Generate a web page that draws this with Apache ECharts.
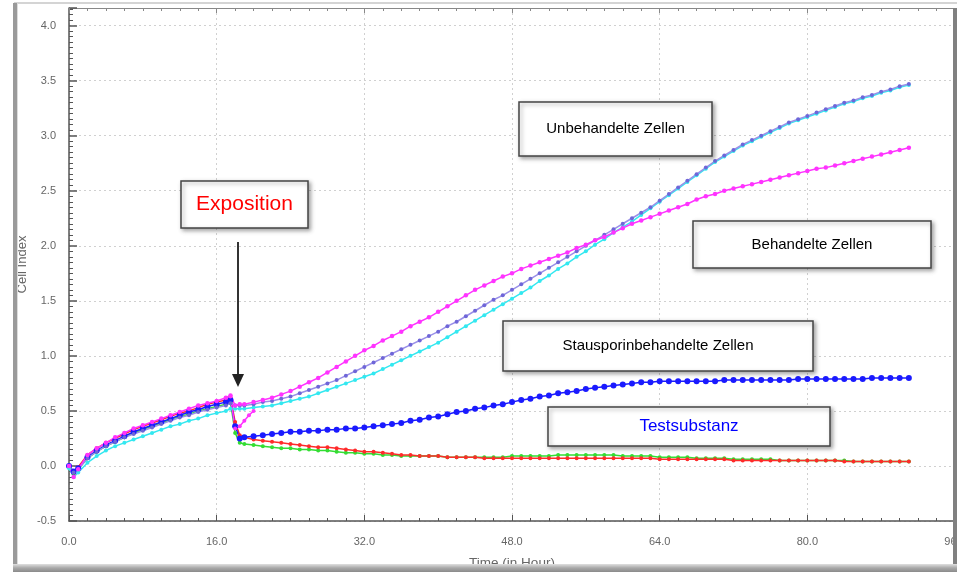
<!DOCTYPE html>
<html lang="de">
<head>
<meta charset="UTF-8">
<title>Cell Index</title>
<script src="https://cdn.jsdelivr.net/npm/echarts@6/dist/echarts.min.js"></script>
<style>
  html, body { margin: 0; padding: 0; background: #fff; }
  #chart { width: 957px; height: 572px; }
</style>
</head>
<body>
<div id="chart"></div>
<script>
// Zeitpunkte (Stunden)
var hours = [0, 0.5, 1, 2, 3, 4, 5, 6, 7, 8, 9, 10, 11, 12, 13, 14, 15, 16, 17, 17.5, 18, 18.5,
  19, 20, 21, 22, 23, 24, 25, 26, 27, 28, 29, 30, 31, 32, 33, 34, 35, 36, 37, 38,
  39, 40, 41, 42, 43, 44, 45, 46, 47, 48, 49, 50, 51, 52, 53, 54, 55, 56, 57, 58,
  59, 60, 61, 62, 63, 64, 65, 66, 67, 68, 69, 70, 71, 72, 73, 74, 75, 76, 77, 78,
  79, 80, 81, 82, 83, 84, 85, 86, 87, 88, 89, 90, 91];

// Behandelte Zellen (magenta)
var behandelt = [0.0, -0.10, -0.03, 0.10, 0.16, 0.21, 0.26, 0.30, 0.34, 0.37, 0.40, 0.43, 0.46, 0.49, 0.52, 0.55, 0.57, 0.59, 0.62, 0.64, 0.55, 0.56,
  0.56, 0.58, 0.60, 0.62, 0.65, 0.68, 0.72, 0.76, 0.80, 0.85, 0.90, 0.95, 1.00, 1.05, 1.09, 1.14, 1.18, 1.22, 1.27, 1.31,
  1.35, 1.40, 1.45, 1.50, 1.55, 1.60, 1.64, 1.68, 1.72, 1.75, 1.79, 1.82, 1.85, 1.88, 1.91, 1.94, 1.98, 2.01, 2.05, 2.08,
  2.12, 2.16, 2.20, 2.23, 2.26, 2.29, 2.32, 2.35, 2.38, 2.42, 2.45, 2.47, 2.50, 2.52, 2.54, 2.56, 2.58, 2.60, 2.62, 2.64,
  2.66, 2.68, 2.70, 2.71, 2.73, 2.75, 2.77, 2.79, 2.81, 2.83, 2.85, 2.87, 2.89];

// Unbehandelte Zellen (violett)
var unbehandelt = [0.0, -0.06, -0.03, 0.07, 0.13, 0.18, 0.22, 0.26, 0.29, 0.32, 0.35, 0.38, 0.41, 0.44, 0.46, 0.49, 0.51, 0.53, 0.55, 0.57, 0.55, 0.55,
  0.55, 0.56, 0.58, 0.59, 0.61, 0.63, 0.66, 0.69, 0.72, 0.75, 0.78, 0.82, 0.86, 0.90, 0.94, 0.98, 1.02, 1.06, 1.10, 1.14,
  1.18, 1.22, 1.27, 1.31, 1.36, 1.41, 1.46, 1.51, 1.55, 1.60, 1.65, 1.70, 1.75, 1.80, 1.85, 1.90, 1.95, 2.00, 2.05, 2.10,
  2.15, 2.20, 2.25, 2.30, 2.35, 2.41, 2.47, 2.53, 2.59, 2.65, 2.71, 2.77, 2.82, 2.87, 2.92, 2.96, 3.00, 3.04, 3.08, 3.12,
  3.15, 3.18, 3.21, 3.24, 3.27, 3.30, 3.32, 3.35, 3.37, 3.40, 3.42, 3.45, 3.47];

// Unbehandelte Zellen, zweites Well (cyan)
var unbehandelt2 = [-0.02, -0.10, -0.06, 0.03, 0.09, 0.14, 0.18, 0.21, 0.24, 0.27, 0.30, 0.33, 0.36, 0.38, 0.41, 0.43, 0.46, 0.48, 0.50, 0.52, 0.52, 0.52,
  0.52, 0.53, 0.54, 0.55, 0.57, 0.59, 0.61, 0.63, 0.66, 0.69, 0.72, 0.75, 0.78, 0.81, 0.84, 0.88, 0.92, 0.96, 1.00, 1.04,
  1.08, 1.12, 1.17, 1.22, 1.27, 1.32, 1.37, 1.42, 1.47, 1.52, 1.57, 1.62, 1.68, 1.73, 1.79, 1.84, 1.90, 1.95, 2.01, 2.06,
  2.12, 2.17, 2.22, 2.28, 2.34, 2.40, 2.46, 2.52, 2.58, 2.64, 2.70, 2.76, 2.81, 2.86, 2.91, 2.95, 2.99, 3.03, 3.07, 3.11,
  3.14, 3.17, 3.20, 3.23, 3.26, 3.29, 3.31, 3.34, 3.36, 3.39, 3.41, 3.44, 3.46];

// Stausporinbehandelte Zellen (blau)
var stausporin = [0.0, -0.05, -0.02, 0.08, 0.14, 0.19, 0.23, 0.27, 0.31, 0.34, 0.37, 0.40, 0.43, 0.46, 0.49, 0.51, 0.54, 0.56, 0.58, 0.60, 0.36, 0.25,
  0.26, 0.27, 0.28, 0.29, 0.30, 0.31, 0.31, 0.32, 0.32, 0.33, 0.33, 0.34, 0.34, 0.35, 0.36, 0.37, 0.38, 0.39, 0.41, 0.42,
  0.44, 0.45, 0.47, 0.49, 0.50, 0.52, 0.53, 0.55, 0.56, 0.58, 0.60, 0.61, 0.63, 0.64, 0.66, 0.67, 0.68, 0.70, 0.71, 0.72,
  0.73, 0.74, 0.75, 0.76, 0.76, 0.77, 0.77, 0.77, 0.77, 0.77, 0.77, 0.77, 0.78, 0.78, 0.78, 0.78, 0.78, 0.78, 0.78, 0.78,
  0.79, 0.79, 0.79, 0.79, 0.79, 0.79, 0.79, 0.79, 0.80, 0.80, 0.80, 0.80, 0.80];

// Testsubstanz (rot)
var testRot = [0.0, -0.05, -0.01, 0.10, 0.16, 0.21, 0.25, 0.29, 0.33, 0.36, 0.39, 0.42, 0.45, 0.48, 0.50, 0.53, 0.56, 0.58, 0.60, 0.62, 0.40, 0.28,
  0.26, 0.24, 0.23, 0.22, 0.21, 0.20, 0.19, 0.18, 0.17, 0.17, 0.16, 0.15, 0.14, 0.13, 0.13, 0.12, 0.11, 0.10, 0.10, 0.09,
  0.09, 0.09, 0.08, 0.08, 0.08, 0.08, 0.07, 0.07, 0.07, 0.07, 0.07, 0.07, 0.07, 0.07, 0.07, 0.07, 0.07, 0.07, 0.07, 0.07,
  0.07, 0.07, 0.07, 0.07, 0.07, 0.06, 0.06, 0.06, 0.06, 0.06, 0.06, 0.06, 0.06, 0.05, 0.05, 0.05, 0.05, 0.05, 0.05, 0.05,
  0.05, 0.05, 0.05, 0.05, 0.05, 0.04, 0.04, 0.04, 0.04, 0.04, 0.04, 0.04, 0.04];

// Testsubstanz (gruen)
var testGruen = [-0.01, -0.07, -0.03, 0.07, 0.13, 0.18, 0.22, 0.26, 0.30, 0.33, 0.36, 0.39, 0.42, 0.45, 0.47, 0.50, 0.52, 0.54, 0.56, 0.58, 0.30, 0.21,
  0.20, 0.19, 0.18, 0.17, 0.16, 0.16, 0.15, 0.15, 0.14, 0.14, 0.13, 0.12, 0.12, 0.11, 0.11, 0.10, 0.10, 0.09, 0.09, 0.09,
  0.09, 0.09, 0.08, 0.08, 0.08, 0.08, 0.08, 0.08, 0.08, 0.09, 0.09, 0.09, 0.09, 0.09, 0.10, 0.10, 0.10, 0.10, 0.10, 0.10,
  0.10, 0.09, 0.09, 0.09, 0.09, 0.08, 0.08, 0.08, 0.08, 0.07, 0.07, 0.07, 0.07, 0.06, 0.06, 0.06, 0.06, 0.06, 0.05, 0.05,
  0.05, 0.05, 0.05, 0.05, 0.05, 0.05, 0.04, 0.04, 0.04, 0.04, 0.04, 0.04, 0.04];

// kurzer magenta Ausreisser direkt nach der Exposition
var spikeHours = [17.5, 18.0, 18.5, 19.0, 19.5, 20.0];
var spikeValues = [0.63, 0.34, 0.36, 0.41, 0.46, 0.50];

var xTicks = [0, 16, 32, 48, 64, 80, 96];

function pairs(xs, ys) {
  return xs.map(function (x, i) { return [x, ys[i]]; });
}

function lineSeries(name, values, color, size, lineColor) {
  return {
    name: name,
    type: 'line',
    data: pairs(hours, values),
    symbol: 'circle',
    symbolSize: size,
    showAllSymbol: true,
    lineStyle: { color: lineColor || color, width: 1.5 },
    itemStyle: { color: color },
    emphasis: { disabled: true }
  };
}

var chart = echarts.init(document.getElementById('chart'));

var boxStyle = {
  fill: '#fff', stroke: '#444', lineWidth: 1.5,
  shadowBlur: 4, shadowColor: 'rgba(0,0,0,0.35)', shadowOffsetX: 2, shadowOffsetY: 2
};

function box(x, y, w, h, text, color, size) {
  return [
    { type: 'rect', shape: { x: x, y: y, width: w, height: h }, style: boxStyle, z: 100 },
    { type: 'text', x: x + w / 2, y: y + h / 2, z: 101,
      style: { text: text, fill: color, font: size + 'px "Liberation Sans", Arial, sans-serif',
               align: 'center', verticalAlign: 'middle' } }
  ];
}

var option = {
  animation: false,
  backgroundColor: '#fff',
  grid: { left: 69, right: 2, top: 8, bottom: 51, containLabel: false, outerBoundsMode: 'none' },
  xAxis: [{
    type: 'value', min: 0, max: 96, interval: 16,
    name: 'Time (in Hour)', nameLocation: 'middle', nameGap: 35, nameMoveOverlap: false,
    nameTextStyle: { color: '#666', fontSize: 13.5, fontFamily: 'Liberation Sans' },
    axisLine: { onZero: false, lineStyle: { color: '#555', width: 1.5 } },
    axisTick: { inside: true, length: 6, lineStyle: { color: '#555' } },
    minorTick: { show: true, splitNumber: 8, length: 3, lineStyle: { color: '#555' } },
    axisLabel: { color: '#666', fontSize: 11, margin: 15, fontFamily: 'Liberation Sans',
      formatter: function (v) { return xTicks.indexOf(v) >= 0 ? v.toFixed(1) : ''; } },
    splitLine: { show: true, lineStyle: { color: '#d0d0d0', type: [2, 3] } }
  }, {
    type: 'value', min: 0, max: 96, interval: 16, position: 'top',
    axisLine: { show: true, onZero: false, lineStyle: { color: '#888', width: 1 } },
    axisTick: { inside: true, length: 5, lineStyle: { color: '#888' } },
    minorTick: { show: true, splitNumber: 8, length: 3, lineStyle: { color: '#888' } },
    axisLabel: { show: false },
    splitLine: { show: false }
  }],
  yAxis: {
    type: 'value', min: -0.5, max: 4.16, interval: 0.5,
    name: 'Cell Index', nameLocation: 'middle', nameGap: 40, nameMoveOverlap: false,
    nameTextStyle: { color: '#666', fontSize: 13, fontFamily: 'Liberation Sans' },
    axisLine: { show: true, onZero: false, lineStyle: { color: '#555', width: 1.5 } },
    axisTick: { show: true, inside: true, length: 8, lineStyle: { color: '#555', width: 1.5 } },
    minorTick: { show: true, splitNumber: 10, length: 4, lineStyle: { color: '#555' } },
    axisLabel: { color: '#666', fontSize: 11, margin: 13, fontFamily: 'Liberation Sans',
      formatter: function (v) {
        return Math.abs(v * 2 - Math.round(v * 2)) < 1e-6 ? v.toFixed(1) : '';
      } },
    splitLine: { show: true, lineStyle: { color: '#d0d0d0', type: [2, 3] } }
  },
  series: [
    lineSeries('Testsubstanz gruen', testGruen, '#33dd33', 4),
    lineSeries('Testsubstanz rot', testRot, '#ff2a2a', 4),
    lineSeries('Stausporinbehandelte Zellen', stausporin, '#1a1aff', 6),
    lineSeries('Unbehandelte Zellen 2', unbehandelt2, '#33e8f0', 4),
    lineSeries('Unbehandelte Zellen', unbehandelt, '#6f66d8', 4, '#9a90e8'),
    lineSeries('Behandelte Zellen', behandelt, '#ff33ff', 4.5),
    {
      name: 'Behandelte Zellen spike', type: 'line',
      data: pairs(spikeHours, spikeValues),
      symbol: 'circle', symbolSize: 4, showAllSymbol: true,
      lineStyle: { color: '#ff33ff', width: 1.5 }, itemStyle: { color: '#ff33ff' },
      emphasis: { disabled: true }
    }
  ],
  graphic: [
    // Rahmen
    { type: 'rect', shape: { x: 14, y: 2, width: 943, height: 2 }, style: { fill: '#d4d4d4' }, z: 90 },
    { type: 'rect', shape: { x: 13, y: 3, width: 4, height: 566 }, style: { fill: '#9a9a9a' }, z: 90 },
    { type: 'rect', shape: { x: 17, y: 3, width: 1, height: 562 }, style: { fill: '#dcdcdc' }, z: 90 },
    { type: 'rect', shape: { x: 953, y: 8, width: 4, height: 560 }, style: { fill: '#808080' }, z: 90 },
    { type: 'rect', shape: { x: 13, y: 564, width: 944, height: 8 },
      style: { fill: new echarts.graphic.LinearGradient(0, 0, 0, 1, [
        { offset: 0, color: '#e0e0e0' }, { offset: 0.5, color: '#a8a8a8' }, { offset: 1, color: '#8a8a8a' }]) }, z: 95 },
    // Pfeil
    { type: 'line', shape: { x1: 238, y1: 242, x2: 238, y2: 376 }, style: { stroke: '#333', lineWidth: 2 }, z: 100 },
    { type: 'polygon', shape: { points: [[232, 374], [244, 374], [238, 387]] }, style: { fill: '#222' }, z: 100 }
  ]
    .concat(box(181, 181, 127, 47, 'Exposition', '#ff0000', 21))
    .concat(box(519, 102, 193, 54, 'Unbehandelte Zellen', '#000', 15))
    .concat(box(693, 221, 238, 47, 'Behandelte Zellen', '#000', 15))
    .concat(box(503, 321, 310, 50, 'Stausporinbehandelte Zellen', '#000', 15))
    .concat(box(548, 407, 282, 39, 'Testsubstanz', '#0000ff', 17))
};

chart.setOption(option);
</script>
</body>
</html>
